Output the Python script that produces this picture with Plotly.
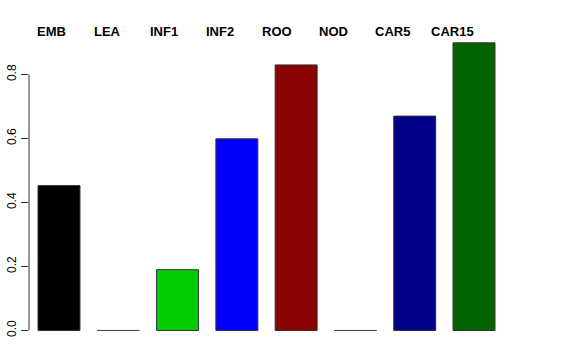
import plotly.graph_objects as go

categories = ["EMB", "LEA", "INF1", "INF2", "ROO", "NOD", "CAR5", "CAR15"]
values = [0.453, 0.0, 0.19, 0.599, 0.83, 0.0, 0.67, 0.899]
colors = ["#000000", "#FFFFFF", "#00CD00", "#0000FF", "#8B0000", "#8B008B", "#00008B", "#006400"]
tick_vals = [0.0, 0.2, 0.4, 0.6, 0.8]
tick_text = ["0.0", "0.2", "0.4", "0.6", "0.8"]

bargap = 0.292
idx = list(range(len(categories)))

fig = go.Figure()
fig.add_trace(go.Bar(
    x=idx, y=values,
    marker=dict(color=colors, line=dict(color="#333333", width=1)),
    width=1 - bargap,
    hoverinfo="skip",
))

shapes = []
# zero-height bars drawn as a line (as R does)
for i, v in enumerate(values):
    if v == 0:
        shapes.append(dict(type="line", xref="x", yref="y",
                           x0=i - (1 - bargap) / 2, x1=i + (1 - bargap) / 2,
                           y0=0, y1=0, line=dict(color="#4d4552", width=1.2)))
# R-style axis line spanning first to last tick
shapes.append(dict(type="line", xref="paper", yref="y", x0=0, x1=0,
                   y0=tick_vals[0], y1=tick_vals[-1],
                   line=dict(color="#333333", width=1)))

annotations = []
for i, c in enumerate(categories):
    annotations.append(dict(
        text="<b>" + c + "</b>", xref="x", yref="paper",
        x=-0.40 + 0.949 * i, y=1.0, xanchor="left", yanchor="middle",
        showarrow=False, font=dict(size=13, color="black",
                                   family="Liberation Sans, Arial, sans-serif"),
    ))

fig.update_layout(
    width=576, height=360,
    margin=dict(l=29, r=72, t=31, b=18, autoexpand=False),
    paper_bgcolor="white", plot_bgcolor="white",
    showlegend=False,
    shapes=shapes,
    annotations=annotations,
    font=dict(family="Liberation Sans, Arial, sans-serif", size=12, color="black"),
    xaxis=dict(range=[-0.506, 7.506], showticklabels=False, showgrid=False,
               zeroline=False, showline=False, ticks="", automargin=False),
    yaxis=dict(range=[-0.036, 0.936], tickvals=tick_vals, ticktext=tick_text,
               tickangle=-90, ticks="outside", ticklen=7, tickcolor="#333333",
               tickwidth=1, showgrid=False, zeroline=False, showline=False,
               automargin=False, tickfont=dict(size=12, color="black")),
)

fig.write_html("out.html", config={"displayModeBar": False},
               post_script="document.body.style.margin='0';")
